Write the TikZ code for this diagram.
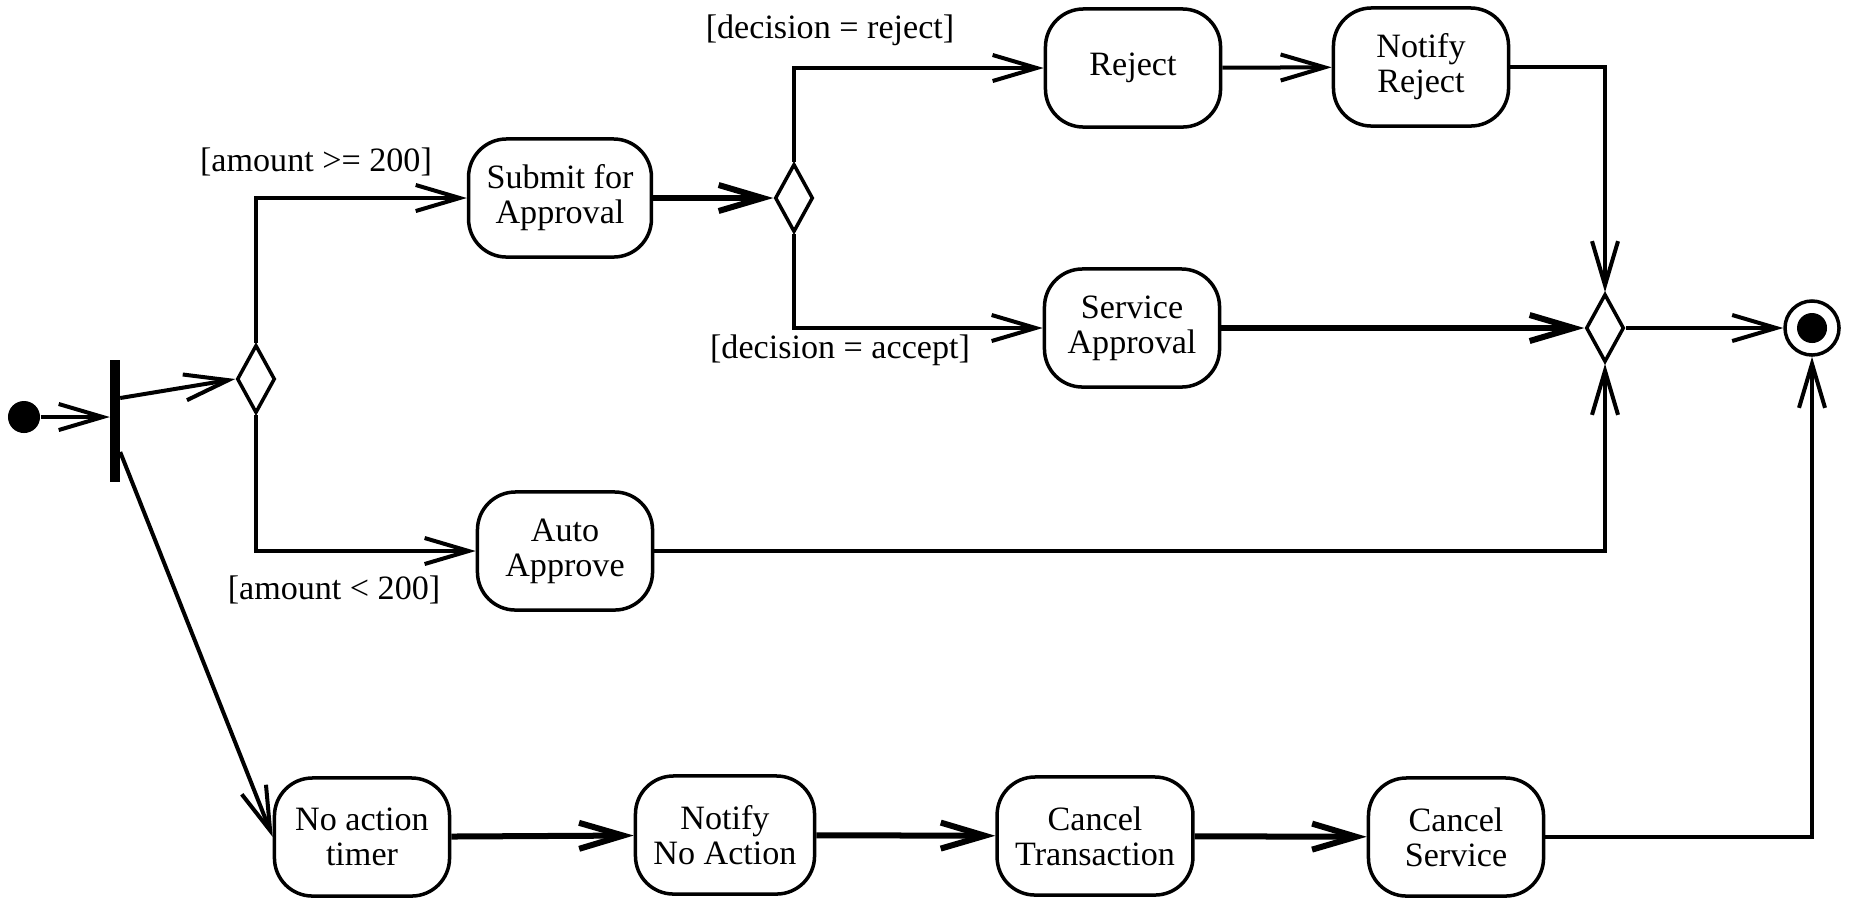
\documentclass[tikz,border=0pt]{standalone}
\usepackage{fontspec}
\setmainfont{Liberation Serif}
\usepackage{tikz}
\usetikzlibrary{shapes.geometric, arrows.meta, positioning, calc}

\begin{document}
\begin{tikzpicture}[
    x=0.01cm, y=-0.01cm,
    act/.style={draw, line width=0.035cm, rounded corners=0.38cm, minimum width=1.75cm, minimum height=1.18cm, inner xsep=0.18cm, align=center, font=\fontsize{9.7}{10}\selectfont},
    choice/.style={draw, diamond, line width=0.035cm, minimum width=0.38cm, minimum height=0.68cm, inner sep=0},
    guard/.style={font=\fontsize{9.7}{10}\selectfont},
    arrow/.style={-{Straight Barb[length=0.44cm, width=0.26cm]}, line width=0.04cm},
    thickarrow/.style={arrow, line width=0.06cm}
]
    \useasboundingbox (0,0) rectangle (1849,899);

    \node[circle, fill, minimum size=0.32cm, inner sep=0] (start) at (24,417) {};
    \node[fill, minimum width=0.09cm, minimum height=1.21cm, inner sep=0] (fork) at (115,421) {};
    \node[choice] (dec1) at (256,379) {};
    \node[act] (submit) at (560,198) {Submit for\\Approval};
    \node[act] (auto) at (565,551) {Auto\\Approve};
    \node[choice] (dec2) at (794,198) {};
    \node[act] (reject) at (1133,68) {Reject};
    \node[act] (notifyrej) at (1421,67) {Notify\\Reject};
    \node[act] (service) at (1132,328) {Service\\Approval};
    \node[choice] (merge) at (1605,328) {};
    \node[circle, draw, line width=0.035cm, minimum size=0.54cm, inner sep=0,
          path picture={\fill (path picture bounding box.center) circle (0.15cm);}] (final) at (1812,328) {};

    \node[act] (timer) at (362,837) {No action\\timer};
    \node[act] (notifyno) at (725,835) {Notify\\No Action};
    \node[act] (canceltx) at (1095,836) {Cancel\\Transaction};
    \node[act] (cancelsvc) at (1456,837) {Cancel\\Service};

    \node[guard] (gbig) at (316,162) {[amount >= 200]};
    \node[guard] (gsmall) at (334,590) {[amount < 200]};
    \node[guard] (grej) at (830,30) {[decision = reject]};
    \node[guard] (gacc) at (840,350) {[decision = accept]};

    \draw[arrow] (start) -- (start -| fork.west);
    \draw[arrow] (fork.east |- 0,398) -- (dec1.west);
    \draw[arrow] (fork.east |- 0,452) -- (timer.west);
    \draw[arrow] (dec1.north) |- (submit.west);
    \draw[arrow] (dec1.south) |- (auto.west);
    \draw[thickarrow] (submit) -- (dec2.west);
    \draw[arrow] (dec2.north) |- (reject.west);
    \draw[arrow] (dec2.south) |- (service.west);
    \draw[arrow] (reject) -- (notifyrej);
    \draw[arrow] (notifyrej.east) -| (merge.north);
    \draw[thickarrow] (service) -- (merge.west);
    \draw[arrow] (auto.east) -| (merge.south);
    \draw[arrow] (merge) -- (final);

    \draw[thickarrow] (timer) -- (notifyno);
    \draw[thickarrow] (notifyno) -- (canceltx);
    \draw[thickarrow] (canceltx) -- (cancelsvc);
    \draw[arrow] (cancelsvc.east) -| (final.south);
\end{tikzpicture}
\end{document}
